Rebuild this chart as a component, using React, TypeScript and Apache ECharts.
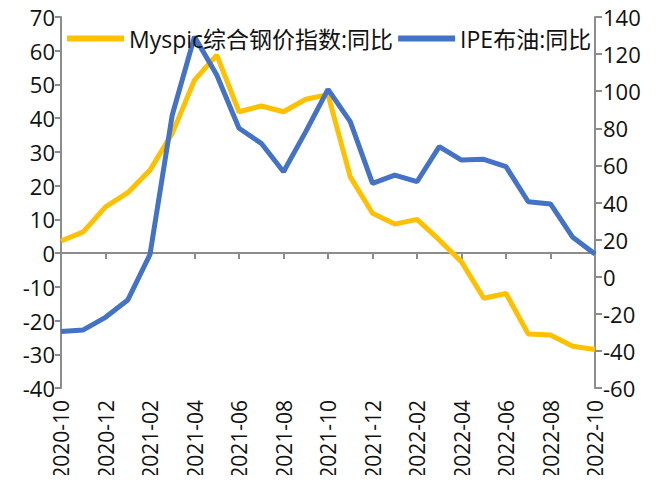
import React, { useEffect, useRef } from "react";
import * as echarts from "echarts";

const categories = [
  "2020-10", "2020-11", "2020-12", "2021-01", "2021-02", "2021-03", "2021-04",
  "2021-05", "2021-06", "2021-07", "2021-08", "2021-09", "2021-10", "2021-11",
  "2021-12", "2022-01", "2022-02", "2022-03", "2022-04", "2022-05", "2022-06",
  "2022-07", "2022-08", "2022-09", "2022-10",
];

const steelName = "Myspic综合钢价指数:同比";
const oilName = "IPE布油:同比";

const steelValues = [
  3.6, 6.3, 13.7, 17.9, 24.6, 35.5, 51.3, 58.7, 41.9, 43.6, 41.9, 45.6, 47.0,
  22.6, 11.8, 8.6, 10.0, 3.9, -2.6, -13.4, -12.0, -24.0, -24.3, -27.6, -28.6,
];

const oilValues = [
  -29.6, -28.7, -21.9, -12.6, 12.0, 87.2, 129.4, 108.7, 80.0, 71.9, 56.6, 78.2,
  101.0, 83.6, 50.3, 54.8, 51.2, 70.1, 62.9, 63.3, 59.3, 40.4, 39.2, 21.2, 12.2,
];

const FONT = "'Open Sans', 'Noto Sans CJK SC', sans-serif";
const AXIS_COLOR = "#8c8c8c";

export default function App() {
  const ref = useRef<HTMLDivElement>(null);

  useEffect(() => {
    if (!ref.current) return;
    const chart = echarts.init(ref.current, null, { renderer: "svg" });
    chart.setOption({
      animation: false,
      textStyle: { fontFamily: FONT },
      grid: {
        left: 61,
        right: 64,
        top: 17,
        bottom: 95,
        containLabel: false,
        outerBoundsMode: "none",
      },
      legend: {
        left: 62,
        top: 22,
        itemGap: 5,
        itemWidth: 57,
        itemHeight: 6,
        icon: "rect",
        textStyle: { fontSize: 23, color: "#111", fontFamily: FONT },
        data: [steelName, oilName],
      },
      xAxis: [
        {
          type: "category",
          data: categories,
          boundaryGap: false,
          position: "bottom",
          axisLine: { show: false, onZero: false },
          axisTick: { show: false },
          splitLine: { show: false },
          axisLabel: {
            rotate: 90,
            interval: 1,
            margin: 12,
            fontSize: 21,
            color: "#111",
            fontFamily: FONT,
          },
        },
        {
          type: "category",
          data: categories,
          boundaryGap: false,
          position: "bottom",
          axisLine: {
            show: true,
            onZero: true,
            onZeroAxisIndex: 0,
            lineStyle: { color: AXIS_COLOR, width: 2 },
          },
          axisTick: {
            show: true,
            interval: 1,
            length: 6,
            lineStyle: { color: AXIS_COLOR, width: 2 },
          },
          axisLabel: { show: false },
          splitLine: { show: false },
        },
      ],
      yAxis: [
        {
          type: "value",
          min: -40,
          max: 70,
          interval: 10,
          position: "left",
          axisLine: { show: true, onZero: false, lineStyle: { color: AXIS_COLOR, width: 2 } },
          axisTick: { show: true, length: 6, lineStyle: { color: AXIS_COLOR, width: 2 } },
          splitLine: { show: false },
          axisLabel: { fontSize: 22, color: "#111", margin: 6, fontFamily: FONT },
        },
        {
          type: "value",
          min: -60,
          max: 140,
          interval: 20,
          position: "right",
          axisLine: { show: true, onZero: false, lineStyle: { color: AXIS_COLOR, width: 2 } },
          axisTick: { show: true, length: 7, lineStyle: { color: AXIS_COLOR, width: 2 } },
          splitLine: { show: false },
          axisLabel: { fontSize: 22, color: "#111", margin: 8, fontFamily: FONT },
        },
      ],
      series: [
        {
          name: steelName,
          type: "line",
          data: steelValues,
          xAxisIndex: 0,
          yAxisIndex: 0,
          symbol: "none",
          lineStyle: { color: "#FFC000", width: 5 },
          itemStyle: { color: "#FFC000" },
        },
        {
          name: oilName,
          type: "line",
          data: oilValues,
          xAxisIndex: 0,
          yAxisIndex: 1,
          symbol: "none",
          lineStyle: { color: "#4472C4", width: 5 },
          itemStyle: { color: "#4472C4" },
        },
      ],
    });
    return () => chart.dispose();
  }, []);

  return <div ref={ref} style={{ width: 659, height: 483, margin: -8 }} />;
}
